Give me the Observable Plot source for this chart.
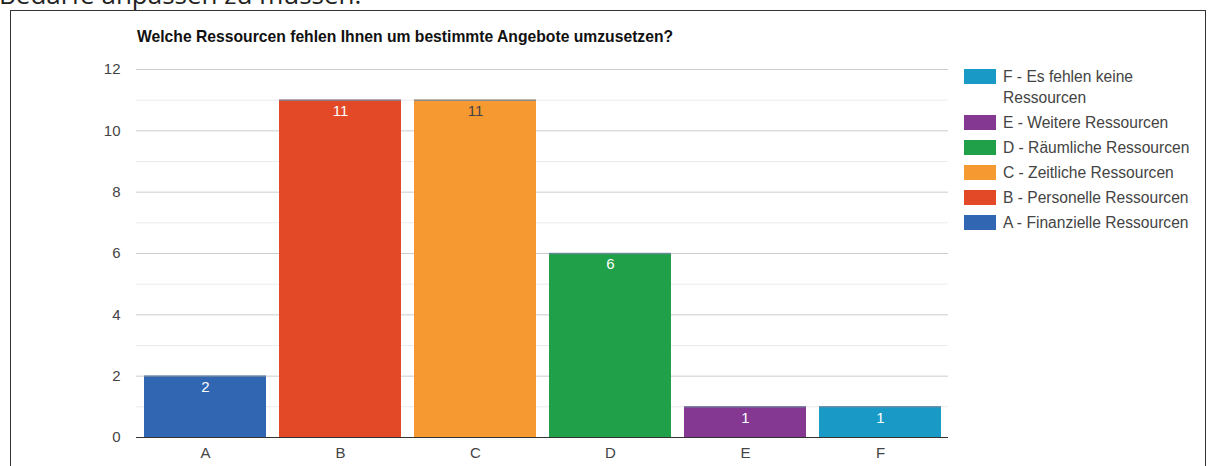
<!DOCTYPE html>
<html>
<head>
<meta charset="utf-8">
<script src="https://cdn.jsdelivr.net/npm/d3@7"></script>
<script src="https://cdn.jsdelivr.net/npm/@observablehq/plot@0.6"></script>
<style>
  html, body { margin: 0; padding: 0; background: #fff; overflow: hidden; }
  #page { position: relative; width: 1215px; height: 466px; }
  #top { position: absolute; left: -1px; top: -24px; font-family: "Open Sans", sans-serif; font-size: 26px; line-height: 36px; color: #222; white-space: nowrap; }
  #box { position: absolute; left: 10px; top: 10px; width: 1194px; height: 470px; border: 1px solid #333; background: #fff; }
  #title { position: absolute; left: 137px; top: 28px; font-family: "Liberation Sans", Arial, sans-serif; font-weight: bold; font-size: 15.7px; line-height: 18px; color: #111; white-space: nowrap; }
  #chart { position: absolute; left: 0; top: 0; }
  #legend { position: absolute; left: 964px; top: 66px; font-family: "Liberation Sans", Arial, sans-serif; font-size: 15.6px; color: #444; }
  .item { position: relative; padding-left: 39px; line-height: 21px; margin-bottom: 4px; width: 200px; }
  .sw { position: absolute; left: 0; top: 3px; width: 32px; height: 15px; }
</style>
</head>
<body>
<div id="page">
  <div id="top">Bedarfe anpassen zu müssen.</div>
  <div id="box"></div>
  <div id="chart"></div>
  <div id="title">Welche Ressourcen fehlen Ihnen um bestimmte Angebote umzusetzen?</div>
  <div id="legend"></div>
</div>
<script>
const categories = ["A", "B", "C", "D", "E", "F"];
const values = [2, 11, 11, 6, 1, 1];
const legendLabels = [
  "A - Finanzielle Ressourcen",
  "B - Personelle Ressourcen",
  "C - Zeitliche Ressourcen",
  "D - Räumliche Ressourcen",
  "E - Weitere Ressourcen",
  "F - Es fehlen keine Ressourcen"
];
const colors = ["#3167b2", "#e34926", "#f69930", "#21a04a", "#853891", "#1899c6"];
const labelColors = ["#fff", "#fff", "#444", "#fff", "#fff", "#fff"];
const yTicks = [0, 2, 4, 6, 8, 10, 12];
const minorTicks = [1, 3, 5, 7, 9, 11];

const data = categories.map((c, i) => ({cat: c, value: values[i], color: colors[i], lc: labelColors[i]}));

const chart = Plot.plot({
  width: 1215,
  height: 466,
  marginLeft: 136,
  marginRight: 267,
  marginTop: 69,
  marginBottom: 29,
  style: {background: "transparent", fontFamily: "Liberation Sans, Arial, sans-serif"},
  x: {domain: categories, paddingInner: 0.1, paddingOuter: 0.05, label: null},
  y: {domain: [0, 12], label: null},
  marks: [
    Plot.ruleY(minorTicks, {stroke: "#ebebeb", strokeWidth: 1}),
    Plot.ruleY(yTicks.filter(d => d > 0), {stroke: "#cccccc", strokeWidth: 1}),
    Plot.barY(data, {x: "cat", y: "value", fill: "color"}),
    Plot.tickY(data, {x: "cat", y: "value", stroke: "#7088a0", strokeWidth: 1.5, strokeOpacity: 0.8}),
    Plot.text(data, {x: "cat", y: "value", text: d => String(d.value), fill: "lc", dy: 11, fontSize: 15}),
    Plot.ruleY([0], {stroke: "#333", strokeWidth: 1}),
    Plot.axisY({ticks: yTicks, tickSize: 0, tickPadding: 16, fontSize: 15, color: "#444", label: null}),
    Plot.axisX({tickSize: 0, tickPadding: 10, fontSize: 15, color: "#444", label: null})
  ]
});
document.getElementById("chart").appendChild(chart);

const legend = document.getElementById("legend");
for (let i = categories.length - 1; i >= 0; i--) {
  const item = document.createElement("div");
  item.className = "item";
  const sw = document.createElement("div");
  sw.className = "sw";
  sw.style.background = colors[i];
  item.appendChild(sw);
  item.appendChild(document.createTextNode(legendLabels[i]));
  legend.appendChild(item);
}
</script>
</body>
</html>
